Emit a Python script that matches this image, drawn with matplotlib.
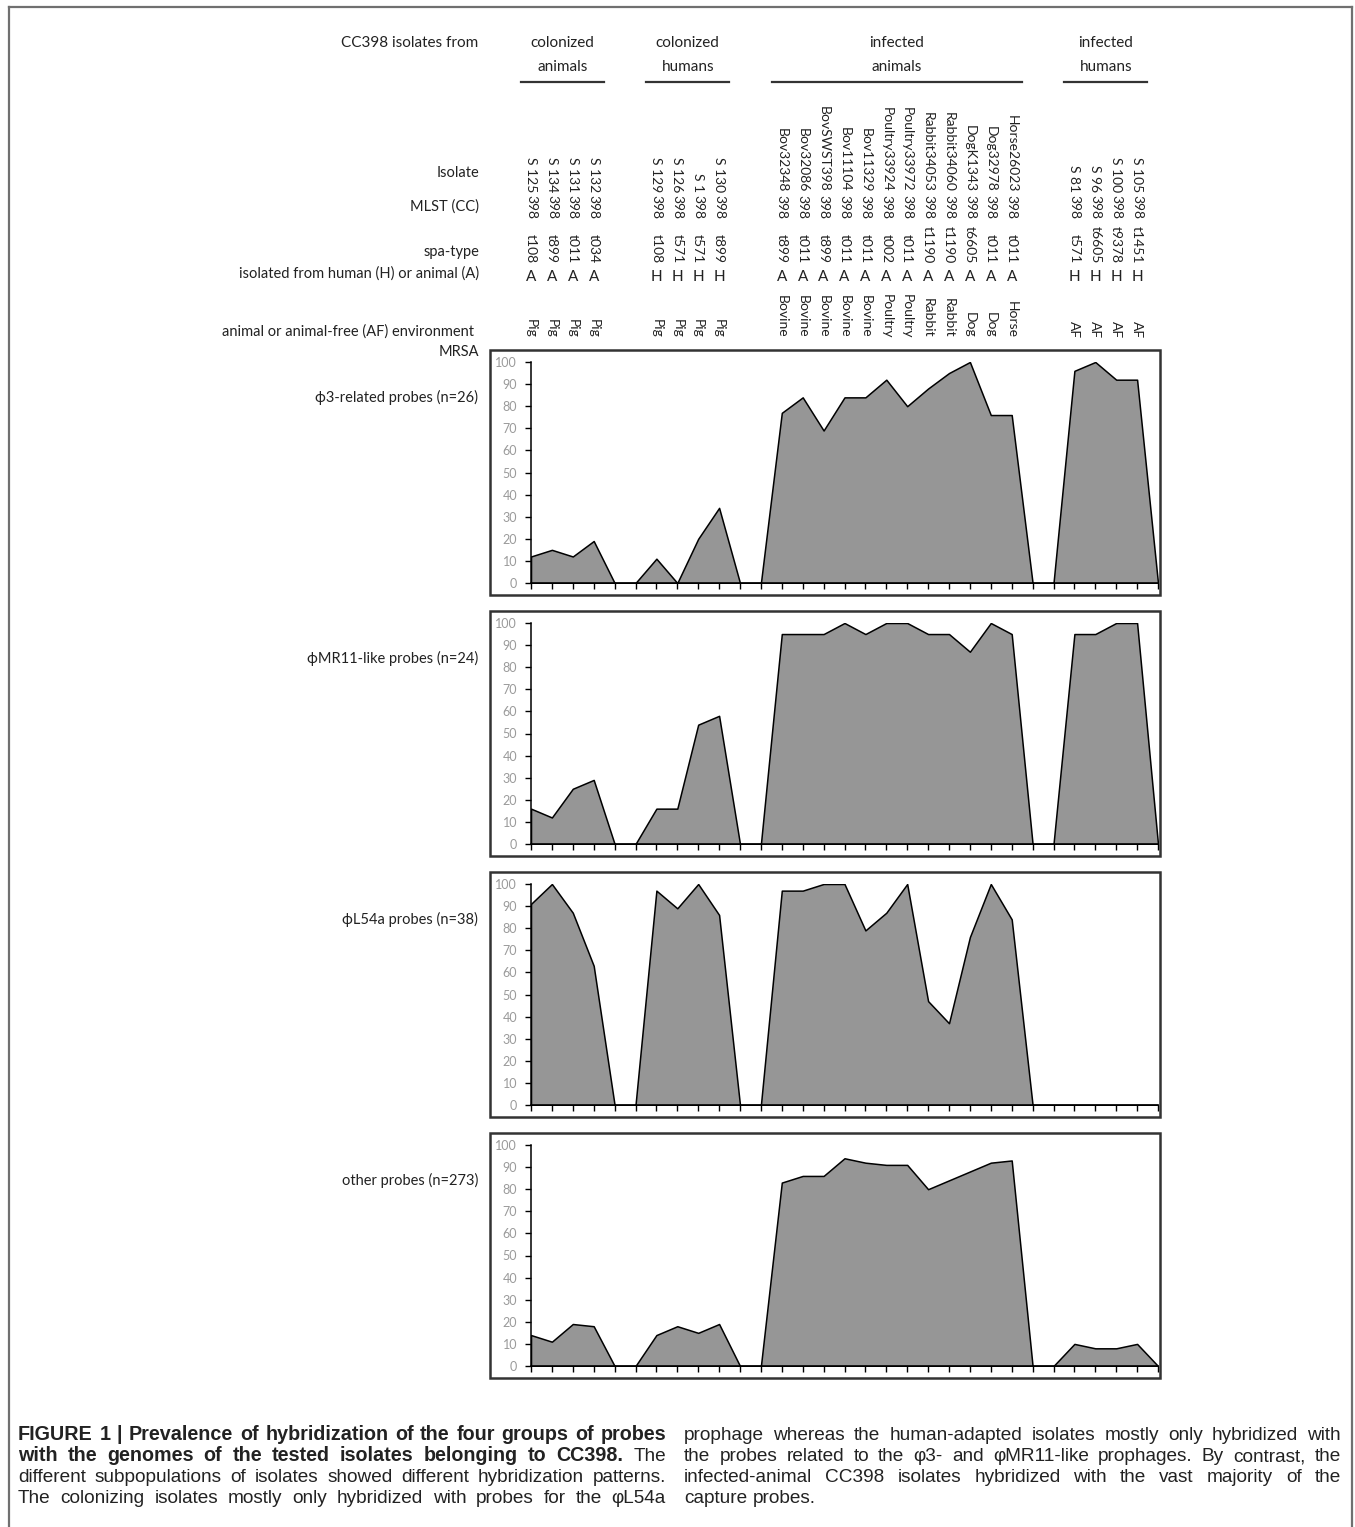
import matplotlib
matplotlib.use('Agg')
import matplotlib.pyplot as plt
from matplotlib.lines import Line2D

# figure size in pixels (dpi 100)
W, H = 1355, 1527

# ---- data ----
group_names = [('colonized', 'animals'), ('colonized', 'humans'), ('infected', 'animals'), ('infected', 'humans')]

isolates = [
    ['S 125', 'S 134', 'S 131', 'S 132'],
    ['S 129', 'S 126', 'S 1', 'S 130'],
    ['Bov32348', 'Bov32086', 'BovSWST398', 'Bov11104', 'Bov11329', 'Poultry33924',
     'Poultry33972', 'Rabbit34053', 'Rabbit34060', 'DogK1343', 'Dog32978', 'Horse26023'],
    ['S 81', 'S 96', 'S 100', 'S 105'],
]
mlst = '398'
spa_types = [
    ['t108', 't899', 't011', 't034'],
    ['t108', 't571', 't571', 't899'],
    ['t899', 't011', 't899', 't011', 't011', 't002', 't011', 't1190', 't1190', 't6605', 't011', 't011'],
    ['t571', 't6605', 't9378', 't1451'],
]
origin = ['A', 'H', 'A', 'H']
environment = [
    ['Pig', 'Pig', 'Pig', 'Pig'],
    ['Pig', 'Pig', 'Pig', 'Pig'],
    ['Bovine', 'Bovine', 'Bovine', 'Bovine', 'Bovine', 'Poultry', 'Poultry',
     'Rabbit', 'Rabbit', 'Dog', 'Dog', 'Horse'],
    ['AF', 'AF', 'AF', 'AF'],
]

row_labels = ['Isolate', 'MLST (CC)', 'spa-type', 'isolated from human (H) or animal (A)',
              'animal or animal-free (AF) environment', 'MRSA']

panel_labels = ['\u03d53-related probes (n=26)', '\u03d5MR11-like probes (n=24)',
                '\u03d5L54a probes (n=38)', 'other probes (n=273)']

# % hybridization per column (blank columns between groups = 0)
phi3 = [12, 15, 12, 19, 0, 0, 11, 0, 20, 34, 0, 0,
        77, 84, 69, 84, 84, 92, 80, 88, 95, 100, 76, 76, 0, 0,
        96, 100, 92, 92, 0]
phiMR11 = [16, 12, 25, 29, 0, 0, 16, 16, 54, 58, 0, 0,
           95, 95, 95, 100, 95, 100, 100, 95, 95, 87, 100, 95, 0, 0,
           95, 95, 100, 100, 0]
phiL54a = [91, 100, 87, 63, 0, 0, 97, 89, 100, 86, 0, 0,
           97, 97, 100, 100, 79, 87, 100, 47, 37, 76, 100, 84, 0, 0,
           0, 0, 0, 0, 0]
other = [14, 11, 19, 18, 0, 0, 14, 18, 15, 19, 0, 0,
         83, 86, 86, 94, 92, 91, 91, 80, 84, 88, 92, 93, 0, 0,
         10, 8, 8, 10, 0]
series = [phi3, phiMR11, phiL54a, other]

caption_left = [
    [('FIGURE 1 | Prevalence of hybridization of the four groups of probes', 'bold')],
    [('with the genomes of the tested isolates belonging to CC398.', 'bold'), ('The', 'normal')],
    [('different subpopulations of isolates showed different hybridization patterns.', 'normal')],
    [('The colonizing isolates mostly only hybridized with probes for the \u03c6L54a', 'normal')],
]
caption_right = [
    [('prophage whereas the human-adapted isolates mostly only hybridized with', 'normal')],
    [('the probes related to the \u03c63- and \u03c6MR11-like prophages. By contrast, the', 'normal')],
    [('infected-animal CC398 isolates hybridized with the vast majority of the', 'normal')],
    [('capture probes.', 'normal')],
]

# ---- layout helpers ----
def fx(px):
    return px / W


def fy(py):
    return 1 - py / H


n_cols = len(phi3)
x_first, x_last = 531, 1158
step = (x_last - x_first) / (n_cols - 1)


def col_x(i):
    return x_first + i * step


LBL = ['Lato', 'DejaVu Sans']
CAP = ['Liberation Sans', 'DejaVu Sans']
TXT = '#222222'

fig = plt.figure(figsize=(W / 100, H / 100), dpi=100)

# outer frame
for xa, ya, xb, yb in [(9, 7, 9, 1527), (1352, 7, 1352, 1527), (9, 7, 1352, 7)]:
    fig.add_artist(Line2D([fx(xa), fx(xb)], [fy(ya), fy(yb)], color='#707070', lw=1.6))

# header block
fig.text(fx(478), fy(43), 'CC398 isolates from', ha='right', va='center', fontsize=11, family=LBL, color=TXT)


def vtext(x, y_end, s):
    fig.text(x, fy(y_end), s, rotation=-90, rotation_mode='anchor', ha='right', va='center',
             fontsize=10, family=LBL, color=TXT)


start = 0
for g, names in enumerate(isolates):
    cols = [start + k for k in range(len(names))]
    xc = (col_x(cols[0]) + col_x(cols[-1])) / 2
    fig.text(fx(xc), fy(43), group_names[g][0], ha='center', va='center', fontsize=11, family=LBL, color=TXT)
    fig.text(fx(xc), fy(67), group_names[g][1], ha='center', va='center', fontsize=11, family=LBL, color=TXT)
    fig.add_artist(Line2D([fx(col_x(cols[0]) - 10), fx(col_x(cols[-1]) + 10)], [fy(82), fy(82)],
                          color='#333', lw=1.6))
    for k, c in enumerate(cols):
        x = fx(col_x(c))
        vtext(x, 192, names[k])
        vtext(x, 219, mlst)
        vtext(x, 263, spa_types[g][k])
        fig.text(x, fy(277), origin[g], ha='center', va='center', fontsize=11, family=LBL, color=TXT)
        vtext(x, 338, environment[g][k])
    start += len(names) + 2

row_y = [173, 207, 252, 274, 332, 352]
row_x = [479, 479, 479, 479, 474, 479]
for lab, yy, xx in zip(row_labels, row_y, row_x):
    fig.text(fx(xx), fy(yy), lab, ha='right', va='center', fontsize=10.5, family=LBL, color=TXT)

# ---- the four area panels ----
box_tops = [350, 611, 872, 1133]
xs = list(range(n_cols))
for p, vals in enumerate(series):
    top = box_tops[p]
    # chart-area border
    fig.patches.append(plt.Rectangle((fx(490), fy(top + 245)), fx(1160) - fx(490), fy(top) - fy(top + 245),
                                     transform=fig.transFigure, fill=False, ec='#333', lw=1.8))
    y100, y0 = top + 12, top + 233
    ax = fig.add_axes([fx(x_first), fy(y0), fx(x_last) - fx(x_first), fy(y100) - fy(y0)])
    ax.fill_between(xs, vals, 0, color='#969696', ec='black', lw=1.1)
    ax.set_xlim(0, n_cols - 1)
    ax.set_ylim(0, 100)
    ax.set_yticks(range(0, 101, 10))
    ax.set_xticks(xs)
    ax.set_xticklabels([])
    ax.tick_params(axis='y', direction='out', length=4, width=1, color='black',
                   labelsize=9, labelcolor='#9a9a9a', pad=6)
    ax.tick_params(axis='x', direction='out', length=4, width=1, color='black')
    for lab in ax.get_yticklabels():
        lab.set_family(LBL)
    for s in ['top', 'right']:
        ax.spines[s].set_visible(False)
    for s in ['left', 'bottom']:
        ax.spines[s].set_color('black')
        ax.spines[s].set_linewidth(1.1)
    ax.patch.set_alpha(0)
    fig.text(fx(478), fy(top + 47), panel_labels[p], ha='right', va='center', fontsize=10.5,
             family=LBL, color=TXT)

# ---- caption, justified in two columns ----
renderer = fig.canvas.get_renderer()


def natural_width(s, size, weight):
    t = fig.text(0, 0, s, fontsize=size, family=CAP, fontweight=weight)
    w = t.get_window_extent(renderer).width
    t.remove()
    return w


reg_size = 10 * 628 / natural_width(caption_left[2][0][0], 10, 'normal')
bold_size = 10 * 636 / natural_width(caption_left[0][0][0], 10, 'bold')


def put_line(parts, x0, x1, y, justify=True):
    words = []
    for txt, wt in parts:
        for w in txt.split(' '):
            words.append((w, wt))
    ts = [fig.text(0, fy(y), w, fontsize=bold_size if wt == 'bold' else reg_size, fontweight=wt,
                   family=CAP, color=TXT, va='baseline')
          for w, wt in words]
    widths = [t.get_window_extent(renderer).width for t in ts]
    if justify and len(ts) > 1:
        gap = (x1 - x0 - sum(widths)) / (len(ts) - 1)
    else:
        gap = reg_size * 100 / 72 * 0.28
    x = x0
    for t, w in zip(ts, widths):
        t.set_x(fx(x))
        x += w + gap


line_y = [1440, 1461, 1482, 1503]
for i, parts in enumerate(caption_left):
    put_line(parts, 18, 666, line_y[i])
for i, parts in enumerate(caption_right):
    put_line(parts, 684, 1341, line_y[i], justify=(i < 3))

fig.savefig('out.png', dpi=100)
